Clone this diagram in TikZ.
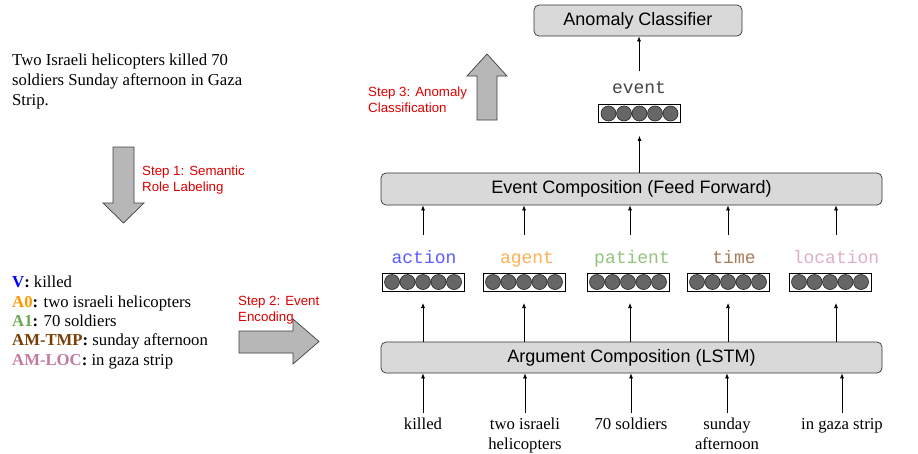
\documentclass[tikz,border=0pt]{standalone}
\usepackage{fontspec}
\setmainfont{Liberation Serif}
\newfontfamily\arialf{Liberation Sans}
\newfontfamily\courf{Liberation Mono}
\usetikzlibrary{arrows.meta}
\definecolor{boxgray}{HTML}{D9D9D9}
\definecolor{arrowgray}{HTML}{B7B7B7}
\definecolor{circgray}{HTML}{666666}
\definecolor{stepred}{HTML}{DD0000}
\definecolor{cV}{HTML}{0000FF}
\definecolor{cA0}{HTML}{FF9900}
\definecolor{cA1}{HTML}{6AA84F}
\definecolor{cTMP}{HTML}{783F04}
\definecolor{cLOC}{HTML}{C27BA0}
\definecolor{lAction}{HTML}{5A5AFF}
\definecolor{lAgent}{HTML}{FFB050}
\definecolor{lPatient}{HTML}{93C47D}
\definecolor{lTime}{HTML}{A67C5A}
\definecolor{lLoc}{HTML}{DDB0C8}
\definecolor{lEvent}{HTML}{444444}
\newcommand\myvec[3]{%
  \node[vecbox] (#1) at (#2,#3) {};
  \foreach \d in {-31,-15.5,0,15.5,31}
    \filldraw[fill=circgray,draw=black!85,line width=0.6pt] ([xshift=\d pt]#1.center) circle[radius=7.5pt];
}
\begin{document}
\begin{tikzpicture}[x=1pt,y=-1pt,
  rbox/.style={draw=black!80,fill=boxgray,rounded corners=5pt,minimum height=31pt,inner sep=0pt,line width=0.7pt,font=\arialf\fontsize{18}{20}\selectfont},
  vecbox/.style={draw=black,fill=white,minimum width=82pt,minimum height=18pt,inner sep=0pt,line width=0.8pt},
  lab/.style={font=\courf\fontsize{18}{20}\selectfont,inner sep=0pt,anchor=base},
  arr/.style={-{Latex[length=5pt,width=4pt]},line width=0.7pt},
  blockarrow/.style={draw=black!75,fill=arrowgray,line width=0.7pt},
  steptext/.style={text=stepred,font=\arialf\fontsize{13.3}{16}\selectfont,align=left,anchor=west,inner sep=0pt},
  serif/.style={font=\fontsize{16.7}{19.5}\selectfont,inner sep=0pt},
]
\useasboundingbox (0,0) rectangle (918,453);

% left texts
\node[serif,align=left,anchor=west,font=\fontsize{16.7}{19.7}\selectfont] (sent) at (12,81.5)
  {Two Israeli helicopters killed 70\\soldiers Sunday afternoon in Gaza\\Strip.};
\node[serif,align=left,anchor=west,font=\fontsize{16.7}{19.3}\selectfont] (srl) at (12,322.5)
  {\textcolor{cV}{\textbf{V}}\textbf{:} killed\\
   \textcolor{cA0}{\textbf{A0}}\textbf{:} two israeli helicopters\\
   \textcolor{cA1}{\textbf{A1}}\textbf{:} 70 soldiers\\
   \textcolor{cTMP}{\textbf{AM-TMP}}\textbf{:} sunday afternoon\\
   \textcolor{cLOC}{\textbf{AM-LOC}}\textbf{:} in gaza strip};

% block arrows
\draw[blockarrow] (113,147) -- (134,147) -- (134,203) -- (144,203) -- (123.5,223) -- (103,203) -- (113,203) -- cycle;
\draw[blockarrow] (239,331) -- (293,331) -- (293,319) -- (319,341.5) -- (293,364) -- (293,353) -- (239,353) -- cycle;
\draw[blockarrow] (477,120) -- (477,76) -- (467,76) -- (487,54) -- (507,76) -- (497,76) -- (497,120) -- cycle;

\node[steptext] (s1) at (142,180) {Step 1: Semantic\\Role Labeling};
\node[steptext] (s2) at (238,310) {Step 2: Event\\Encoding};
\node[steptext] (s3) at (368,100) {Step 3: Anomaly\\Classification};

% main boxes
\node[rbox,minimum width=208pt] (anom) at (638,20.5) {Anomaly Classifier};
\node[rbox,minimum width=501pt,minimum height=32pt] (ecomp) at (631.5,189) {Event Composition (Feed Forward)};
\node[rbox,minimum width=501pt] (acomp) at (631.5,357.5) {Argument Composition (LSTM)};

% event vector
\node[lab,text=lEvent] (evlab) at (639,93.5) {event};
\myvec{ev}{639.5}{113.5}

% argument vectors
\node[lab,text=lAction] (l1) at (424,263.5) {action};
\node[lab,text=lAgent] (l2) at (527,263.5) {agent};
\node[lab,text=lPatient] (l3) at (632,263.5) {patient};
\node[lab,text=lTime] (l4) at (734,263.5) {time};
\node[lab,text=lLoc] (l5) at (836,263.5) {location};
\myvec{v1}{423}{282}
\myvec{v2}{524}{282}
\myvec{v3}{628}{282}
\myvec{v4}{728}{282}
\myvec{v5}{830}{282}

% words
\node[serif,align=center,anchor=north] (w1) at (423,418) {killed};
\node[serif,align=center,anchor=north] (w2) at (525,418) {two israeli\\helicopters};
\node[serif,align=center,anchor=north] (w3) at (631,418) {70 soldiers};
\node[serif,align=center,anchor=north] (w4) at (727,418) {sunday\\afternoon};
\node[serif,align=center,anchor=north] (w5) at (842,418) {in gaza strip};

% connectors
\foreach \w in {w1,w2,w3,w4,w5}
  \draw[arr] ([yshift=5pt]\w.north) -- (\w.north |- acomp.south);
\foreach \xx in {423,524,630,728,836}
  \draw[arr] (acomp.north -| \xx,0) -- (\xx,303);
\foreach \xx in {423,524,630,728,836}
  \draw[arr] (\xx,235) -- (ecomp.south -| \xx,0);
\draw[arr] (ecomp.north -| ev) -- ([yshift=-13pt]ev.south);
\draw[arr] ([yshift=10pt]evlab.north) -- (anom.south -| evlab);
\end{tikzpicture}
\end{document}
